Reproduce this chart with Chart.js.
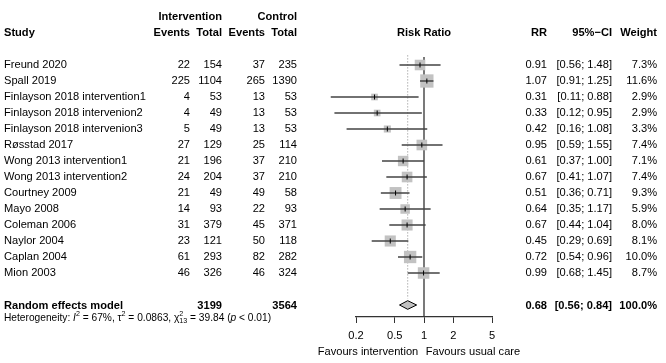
<!DOCTYPE html>
<html lang="en">
<head>
    <meta charset="UTF-8">
    <title>Risk Ratio forest plot</title>
    <script src="https://cdn.jsdelivr.net/npm/chart.js"></script>
    <style>
        body { margin: 0; background: #fff; }
    </style>
</head>
<body>
    <canvas id="forestChart" width="666" height="363"></canvas>

    <script>
        const studies = [
            'Freund 2020', 'Spall 2019', 'Finlayson 2018 intervention1', 'Finlayson 2018 intervenion2',
            'Finlayson 2018 intervenion3', 'Røsstad 2017', 'Wong 2013 intervention1', 'Wong 2013 intervention2',
            'Courtney 2009', 'Mayo 2008', 'Coleman 2006', 'Naylor 2004', 'Caplan 2004', 'Mion 2003'
        ];
        const eventsInt = [22, 225, 4, 4, 5, 27, 21, 24, 21, 14, 31, 23, 61, 46];
        const totalInt = [154, 1104, 53, 49, 49, 129, 196, 204, 49, 93, 379, 121, 293, 326];
        const eventsCtl = [37, 265, 13, 13, 13, 25, 37, 37, 49, 22, 45, 50, 82, 46];
        const totalCtl = [235, 1390, 53, 53, 53, 114, 210, 210, 58, 93, 371, 118, 282, 324];
        const rr = [0.91, 1.07, 0.31, 0.33, 0.42, 0.95, 0.61, 0.67, 0.51, 0.64, 0.67, 0.45, 0.72, 0.99];
        const ciLow = [0.56, 0.91, 0.11, 0.12, 0.16, 0.59, 0.37, 0.41, 0.36, 0.35, 0.44, 0.29, 0.54, 0.68];
        const ciHigh = [1.48, 1.25, 0.88, 0.95, 1.08, 1.55, 1.00, 1.07, 0.71, 1.17, 1.04, 0.69, 0.96, 1.45];
        const weights = [7.3, 11.6, 2.9, 2.9, 3.3, 7.4, 7.1, 7.4, 9.3, 5.9, 8.0, 8.1, 10.0, 8.7];
        const pooledRR = 0.68;
        const pooledCI = [0.56, 0.84];
        const pooledTotals = [3199, 3564];
        const xTicks = [0.2, 0.5, 1, 2, 5];

        const FONT = "'Liberation Sans', Arial, sans-serif";
        const FS = 11.1;
        const poolRow = studies.length + 1;

        // CI segments, broken with null points
        const ciData = [];
        studies.forEach((s, i) => {
            ciData.push({x: ciLow[i], y: i}, {x: ciHigh[i], y: i}, {x: null, y: null});
        });

        const diamond = [
            {x: pooledCI[0], y: poolRow},
            {x: pooledRR, y: poolRow - 0.27},
            {x: pooledCI[1], y: poolRow},
            {x: pooledRR, y: poolRow + 0.27},
            {x: pooledCI[0], y: poolRow}
        ];

        const fmt = v => v.toFixed(2);

        function txt(ctx, s, x, y, align, bold) {
            ctx.font = (bold ? 'bold ' : '') + FS + 'px ' + FONT;
            ctx.textAlign = align;
            ctx.fillText(s, x, y);
        }

        const tablePlugin = {
            id: 'table',
            afterDraw(chart) {
                const ctx = chart.ctx;
                const y = chart.scales.y;
                const x = chart.scales.x;
                ctx.save();
                ctx.fillStyle = '#000';
                ctx.textBaseline = 'middle';

                // header
                const h1 = y.getPixelForValue(-3), h2 = y.getPixelForValue(-2);
                txt(ctx, 'Intervention', 222, h1, 'right', true);
                txt(ctx, 'Control', 297, h1, 'right', true);
                txt(ctx, 'Study', 4, h2, 'left', true);
                txt(ctx, 'Events', 190, h2, 'right', true);
                txt(ctx, 'Total', 222, h2, 'right', true);
                txt(ctx, 'Events', 265, h2, 'right', true);
                txt(ctx, 'Total', 297, h2, 'right', true);
                txt(ctx, 'Risk Ratio', x.getPixelForValue(1), h2, 'center', true);
                txt(ctx, 'RR', 547, h2, 'right', true);
                txt(ctx, '95%\u2212CI', 612, h2, 'right', true);
                txt(ctx, 'Weight', 657, h2, 'right', true);

                studies.forEach((s, i) => {
                    const py = y.getPixelForValue(i);
                    txt(ctx, s, 4, py, 'left');
                    txt(ctx, String(eventsInt[i]), 190, py, 'right');
                    txt(ctx, String(totalInt[i]), 222, py, 'right');
                    txt(ctx, String(eventsCtl[i]), 265, py, 'right');
                    txt(ctx, String(totalCtl[i]), 297, py, 'right');
                    txt(ctx, fmt(rr[i]), 547, py, 'right');
                    txt(ctx, '[' + fmt(ciLow[i]) + '; ' + fmt(ciHigh[i]) + ']', 612, py, 'right');
                    txt(ctx, weights[i].toFixed(1) + '%', 657, py, 'right');
                });

                const pp = y.getPixelForValue(poolRow) + 1;
                txt(ctx, 'Random effects model', 4, pp, 'left', true);
                txt(ctx, String(pooledTotals[0]), 222, pp, 'right', true);
                txt(ctx, String(pooledTotals[1]), 297, pp, 'right', true);
                txt(ctx, fmt(pooledRR), 547, pp, 'right', true);
                txt(ctx, '[' + fmt(pooledCI[0]) + '; ' + fmt(pooledCI[1]) + ']', 612, pp, 'right', true);
                txt(ctx, '100.0%', 657, pp, 'right', true);

                // heterogeneity line
                const hy = y.getPixelForValue(poolRow + 0.8);
                const fs = 10.2;
                let cx = 4;
                ctx.textAlign = 'left';
                const part = (s, opt = {}) => {
                    const size = opt.small ? fs * 0.7 : fs;
                    ctx.font = (opt.italic ? 'italic ' : '') + size + 'px ' + FONT;
                    ctx.fillText(s, cx, hy + (opt.dy || 0));
                    const w = ctx.measureText(s).width;
                    if (!opt.stay) cx += w;
                    return w;
                };
                part('Heterogeneity: ');
                part('I', {italic: true});
                part('2', {small: true, dy: -3.5});
                part(' = 67%, \u03c4');
                part('2', {small: true, dy: -3.5});
                part(' = 0.0863, \u03c7');
                part('2', {small: true, dy: -3.5, stay: true});
                part('13', {small: true, dy: 3});
                part(' = 39.84 (');
                part('p', {italic: true});
                part(' < 0.01)');

                // favours labels
                ctx.font = FS + 'px ' + FONT;
                ctx.textAlign = 'center';
                ctx.fillText('Favours intervention', 368, 352);
                ctx.fillText('Favours usual care', 473, 352);
                ctx.restore();
            }
        };

        new Chart(document.getElementById('forestChart'), {
            type: 'scatter',
            data: {
                datasets: [
                    {
                        label: 'estimate',
                        data: rr.map((v, i) => ({x: v, y: i})),
                        pointStyle: 'line',
                        rotation: 90,
                        pointRadius: 2.5,
                        borderColor: '#000',
                        borderWidth: 1,
                        clip: false,
                        order: 0
                    },
                    {
                        label: 'ci',
                        data: ciData,
                        showLine: true,
                        spanGaps: false,
                        borderColor: '#444',
                        borderWidth: 1.7,
                        pointRadius: 0,
                        clip: false,
                        order: 1
                    },
                    {
                        label: 'weight',
                        data: rr.map((v, i) => ({x: v, y: i})),
                        pointStyle: 'rect',
                        pointRadius: weights.map(w => 13.3 * Math.sqrt(w / 11.6) / Math.SQRT2),
                        backgroundColor: '#c2c2c2',
                        borderWidth: 0,
                        clip: false,
                        order: 2
                    },
                    {
                        label: 'pooled',
                        data: diamond,
                        showLine: true,
                        fill: 'shape',
                        backgroundColor: '#c2c2c2',
                        borderColor: '#000',
                        borderWidth: 1,
                        pointRadius: 0,
                        clip: false,
                        order: 1
                    },
                    {
                        label: 'no effect',
                        data: [{x: 1, y: -0.5}, {x: 1, y: poolRow + 0.75}],
                        showLine: true,
                        borderColor: '#333',
                        borderWidth: 1.3,
                        pointRadius: 0,
                        clip: false,
                        order: 3
                    },
                    {
                        label: 'pooled line',
                        data: [{x: pooledRR, y: -0.6}, {x: pooledRR, y: poolRow - 0.4}],
                        showLine: true,
                        borderColor: '#888',
                        borderWidth: 1,
                        borderDash: [1, 2],
                        pointRadius: 0,
                        clip: false,
                        order: 3
                    }
                ]
            },
            options: {
                responsive: false,
                animation: false,
                layout: { padding: { left: 356, right: 174, top: 49, bottom: 0 } },
                plugins: {
                    legend: { display: false },
                    tooltip: { enabled: false }
                },
                scales: {
                    x: {
                        type: 'logarithmic',
                        min: 0.2,
                        max: 5,
                        afterBuildTicks: scale => { scale.ticks = xTicks.map(v => ({value: v})); },
                        afterFit: scale => { scale.height = 46; },
                        ticks: {
                            autoSkip: false,
                            maxRotation: 0,
                            padding: 6,
                            color: '#000',
                            font: { family: FONT, size: FS },
                            callback: v => String(v)
                        },
                        grid: { drawOnChartArea: false, tickLength: 6, color: '#333' },
                        border: { display: true, color: '#333', width: 1.3 }
                    },
                    y: {
                        type: 'linear',
                        display: false,
                        reverse: true,
                        min: -1,
                        max: poolRow + 0.75
                    }
                }
            },
            plugins: [tablePlugin]
        });
    </script>
</body>
</html>
